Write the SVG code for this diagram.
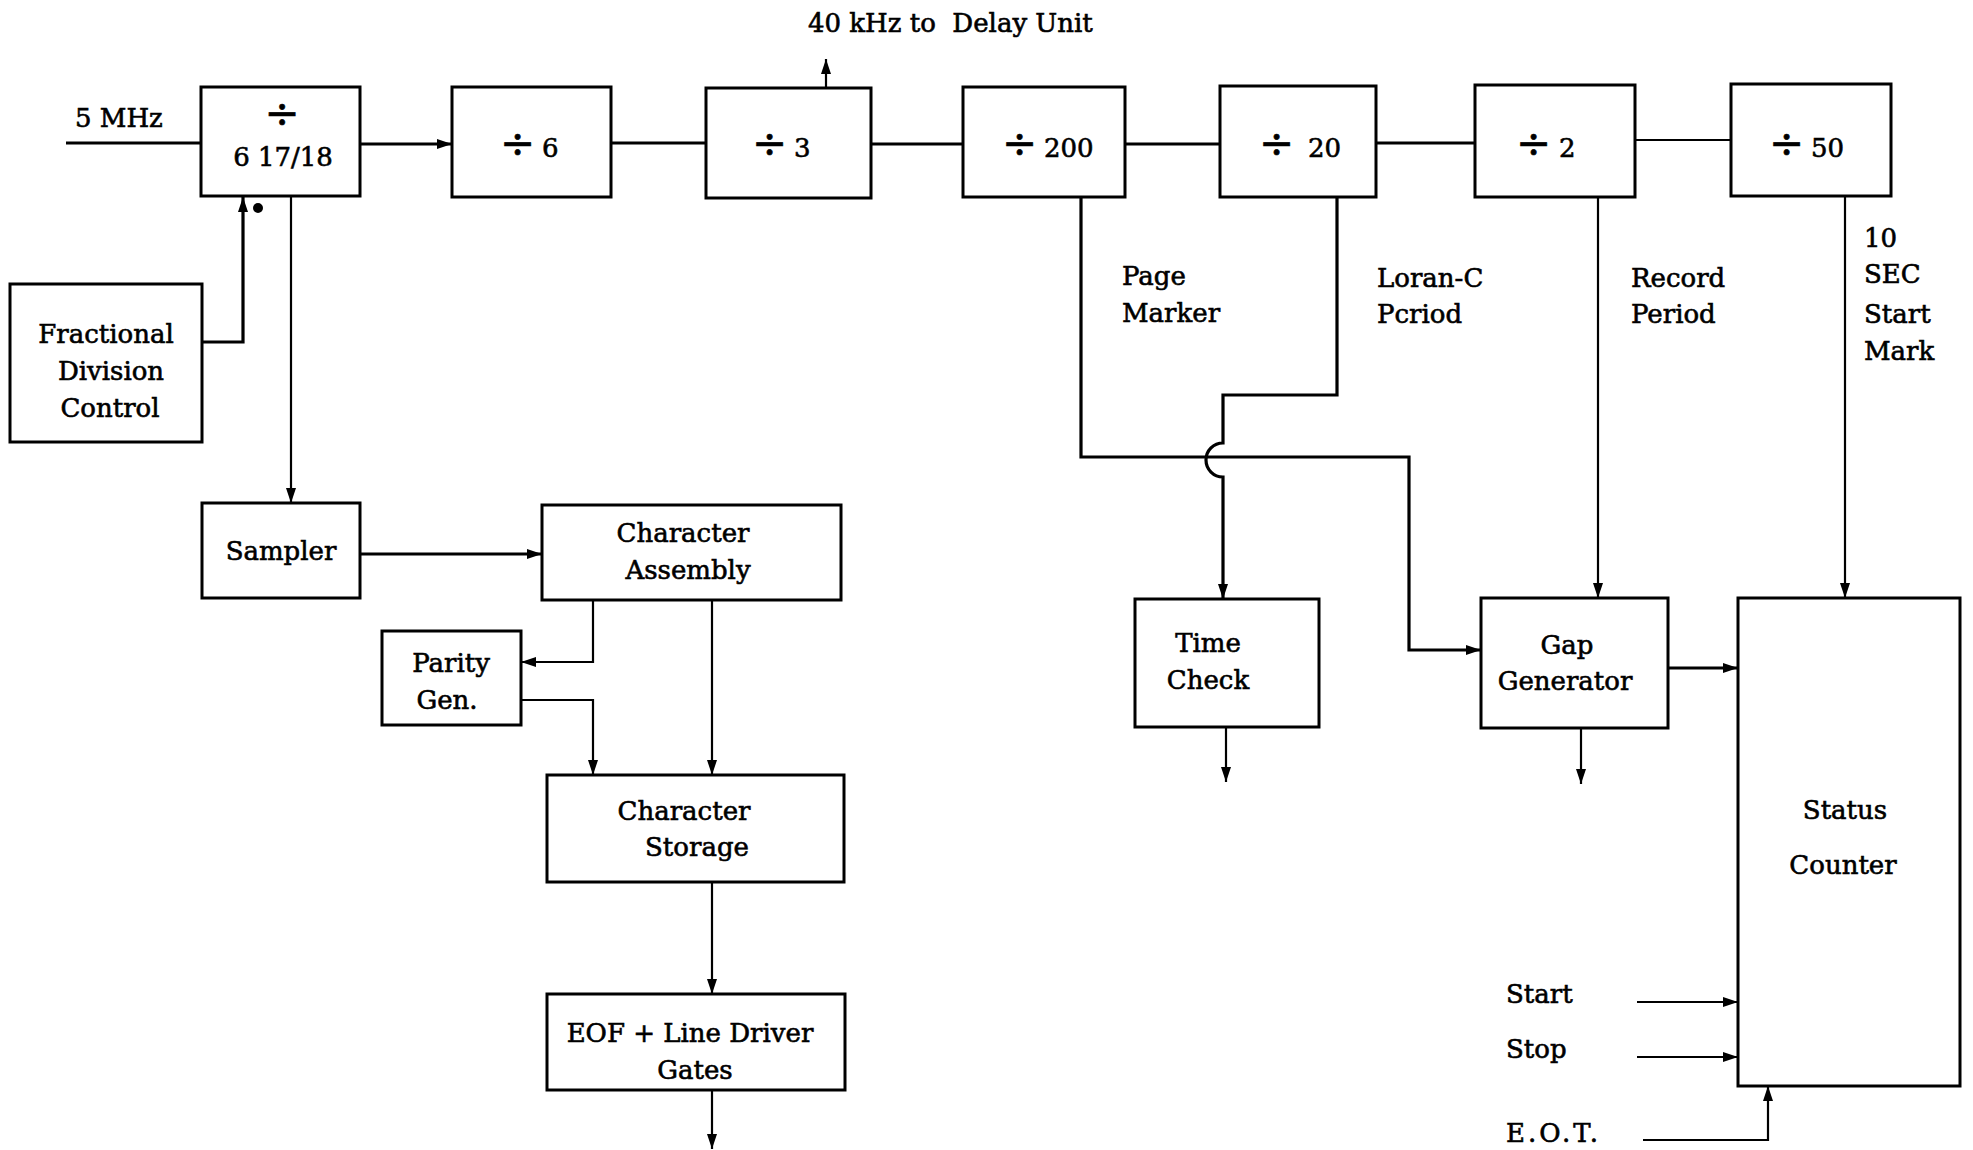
<svg xmlns="http://www.w3.org/2000/svg" width="1973" height="1150" viewBox="0 0 1973 1150">
<style>
.box{fill:none;stroke:#000;stroke-width:3}
.ln{fill:none;stroke:#000;stroke-width:2.2}
.thk{fill:none;stroke:#000;stroke-width:3.2}
text{font-family:"DejaVu Serif","Liberation Serif",serif;font-size:26px;fill:#000;stroke:#000;stroke-width:0.6}
.c{text-anchor:middle}
.num{font-size:26px}
.div{font-size:42px}
</style>
<defs>
<marker id="ah" markerUnits="userSpaceOnUse" markerWidth="16" markerHeight="12" refX="15" refY="6" orient="auto">
<path d="M0,1 L15,6 L0,11 z" fill="#000"/>
</marker>
</defs>
<rect width="1973" height="1150" fill="#fff"/>

<g id="connectors">
<line class="thk" x1="66" y1="143" x2="201" y2="143"/>
<line class="thk" x1="360" y1="144" x2="452" y2="144" marker-end="url(#ah)"/>
<line class="thk" x1="611" y1="143" x2="706" y2="143"/>
<line class="thk" x1="871" y1="144" x2="963" y2="144"/>
<line class="thk" x1="1125" y1="144" x2="1220" y2="144"/>
<line class="thk" x1="1376" y1="143" x2="1475" y2="143"/>
<line class="ln" x1="1635" y1="140" x2="1731" y2="140"/>
<line class="ln" x1="826" y1="88" x2="826" y2="59" marker-end="url(#ah)"/>
<polyline class="thk" points="202,342 243,342 243,197" marker-end="url(#ah)"/>
<line class="ln" x1="291" y1="196" x2="291" y2="503" marker-end="url(#ah)"/>
<line class="thk" x1="360" y1="554" x2="542" y2="554" marker-end="url(#ah)"/>
<polyline class="ln" points="593,600 593,662 521,662" marker-end="url(#ah)"/>
<polyline class="ln" points="521,700 593,700 593,775" marker-end="url(#ah)"/>
<line class="ln" x1="712" y1="600" x2="712" y2="775" marker-end="url(#ah)"/>
<line class="ln" x1="712" y1="882" x2="712" y2="994" marker-end="url(#ah)"/>
<line class="ln" x1="712" y1="1090" x2="712" y2="1149" marker-end="url(#ah)"/>
<polyline class="thk" points="1081,197 1081,457 1409,457 1409,650 1481,650" marker-end="url(#ah)"/>
<path class="thk" d="M1337,197 L1337,395 L1223,395 L1223,443 A17,17 0 0 0 1223,477 L1223,599" marker-end="url(#ah)"/>
<line class="ln" x1="1226" y1="727" x2="1226" y2="782" marker-end="url(#ah)"/>
<line class="ln" x1="1598" y1="197" x2="1598" y2="598" marker-end="url(#ah)"/>
<line class="ln" x1="1581" y1="728" x2="1581" y2="784" marker-end="url(#ah)"/>
<line class="thk" x1="1668" y1="668" x2="1738" y2="668" marker-end="url(#ah)"/>
<line class="ln" x1="1845" y1="196" x2="1845" y2="598" marker-end="url(#ah)"/>
<line class="ln" x1="1637" y1="1002" x2="1738" y2="1002" marker-end="url(#ah)"/>
<line class="ln" x1="1637" y1="1057" x2="1738" y2="1057" marker-end="url(#ah)"/>
<polyline class="ln" points="1643,1140 1768,1140 1768,1086" marker-end="url(#ah)"/>
<circle cx="258" cy="208" r="5" fill="#000"/>
</g>

<g id="div1"><rect class="box" x="201" y="87" width="159" height="109"/>
<text class="c div" x="282" y="128">÷</text>
<text class="c num" x="283" y="166">6 17/18</text></g>
<g id="div6"><rect class="box" x="452" y="87" width="159" height="110"/>
<text class="div" x="500" y="158">÷</text><text class="num" x="542" y="157">6</text></g>
<g id="div3"><rect class="box" x="706" y="88" width="165" height="110"/>
<text class="div" x="752" y="158">÷</text><text class="num" x="794" y="157">3</text></g>
<g id="div200"><rect class="box" x="963" y="87" width="162" height="110"/>
<text class="div" x="1002" y="158">÷</text><text class="num" x="1044" y="157">200</text></g>
<g id="div20"><rect class="box" x="1220" y="86" width="156" height="111"/>
<text class="div" x="1259" y="158">÷</text><text class="num" x="1308" y="157">20</text></g>
<g id="div2"><rect class="box" x="1475" y="85" width="160" height="112"/>
<text class="div" x="1516" y="158">÷</text><text class="num" x="1559" y="157">2</text></g>
<g id="div50"><rect class="box" x="1731" y="84" width="160" height="112"/>
<text class="div" x="1769" y="158">÷</text><text class="num" x="1811" y="157">50</text></g>

<g id="fdc"><rect class="box" x="10" y="284" width="192" height="158"/>
<text class="c" x="106" y="343">Fractional</text>
<text class="c" x="111" y="380">Division</text>
<text class="c" x="110" y="417">Control</text></g>
<g id="sampler"><rect class="box" x="202" y="503" width="158" height="95"/>
<text class="c" x="281" y="560">Sampler</text></g>
<g id="charassembly"><rect class="box" x="542" y="505" width="299" height="95"/>
<text class="c" x="683" y="542">Character</text>
<text class="c" x="688" y="579">Assembly</text></g>
<g id="parity"><rect class="box" x="382" y="631" width="139" height="94"/>
<text class="c" x="451" y="672">Parity</text>
<text class="c" x="447" y="709">Gen.</text></g>
<g id="charstorage"><rect class="box" x="547" y="775" width="297" height="107"/>
<text class="c" x="684" y="820">Character</text>
<text class="c" x="697" y="856">Storage</text></g>
<g id="eof"><rect class="box" x="547" y="994" width="298" height="96"/>
<text class="c" x="690" y="1042">EOF + Line Driver</text>
<text class="c" x="695" y="1079">Gates</text></g>
<g id="timecheck"><rect class="box" x="1135" y="599" width="184" height="128"/>
<text class="c" x="1208" y="652">Time</text>
<text class="c" x="1208" y="689">Check</text></g>
<g id="gapgen"><rect class="box" x="1481" y="598" width="187" height="130"/>
<text class="c" x="1567" y="654">Gap</text>
<text class="c" x="1565" y="690">Generator</text></g>
<g id="status"><rect class="box" x="1738" y="598" width="222" height="488"/>
<text class="c" x="1845" y="819">Status</text>
<text class="c" x="1843" y="874">Counter</text></g>

<g id="labels">
<text x="75" y="127">5 MHz</text>
<text x="808" y="32" xml:space="preserve">40 kHz to  Delay Unit</text>
<text x="1122" y="285">Page</text>
<text x="1122" y="322">Marker</text>
<text x="1377" y="287">Loran-C</text>
<text x="1377" y="323">Pcriod</text>
<text x="1631" y="287">Record</text>
<text x="1631" y="323">Period</text>
<text x="1864" y="247">10</text>
<text x="1864" y="283">SEC</text>
<text x="1864" y="323">Start</text>
<text x="1864" y="360">Mark</text>
<text x="1506" y="1003">Start</text>
<text x="1506" y="1058">Stop</text>
<text x="1506" y="1142" letter-spacing="3">E.O.T.</text>
</g>
</svg>
